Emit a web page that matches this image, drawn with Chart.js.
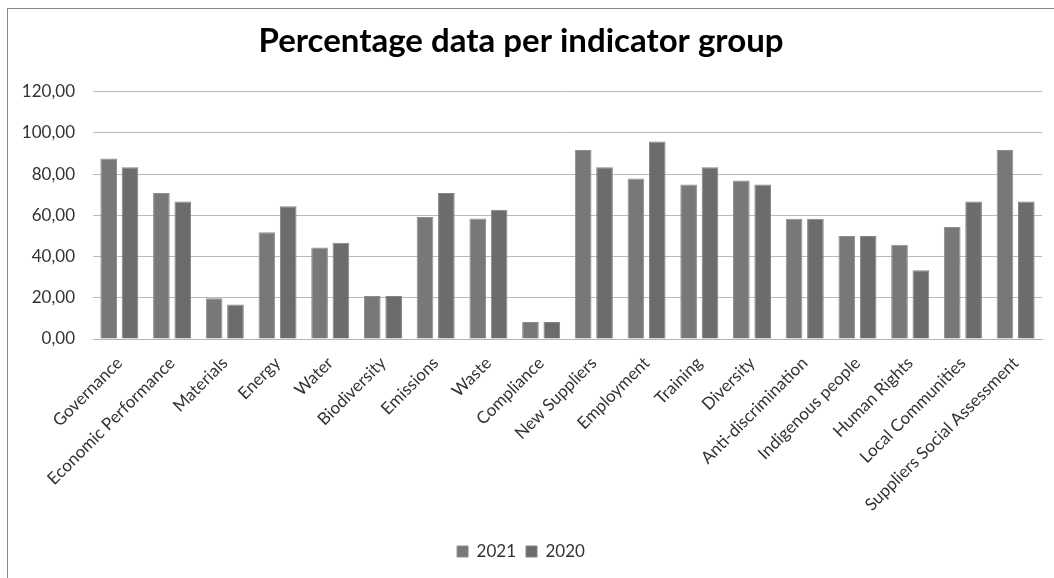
<!DOCTYPE html>
<html><head><meta charset="utf-8">
<script src="https://cdn.jsdelivr.net/npm/chart.js@4/dist/chart.umd.min.js"></script>
<style>
html,body{margin:0;padding:0;background:#fff;overflow:hidden;}
#frame{position:absolute;left:7px;top:8px;width:1100px;height:620px;border:1px solid #8a8a8a;box-sizing:border-box;}
#wrap{position:absolute;left:0;top:0;width:1054px;height:578px;}
</style></head>
<body>
<div id="frame"></div>
<div id="wrap"><canvas id="c" width="1054" height="578"></canvas></div>
<script>
const categories = ["Governance","Economic Performance","Materials","Energy","Water","Biodiversity","Emissions","Waste","Compliance","New Suppliers","Employment","Training","Diversity","Anti-discrimination","Indigenous people","Human Rights","Local Communities","Suppliers Social Assessment"];
const values2021 = [87.5,70.8,19.8,51.8,44.4,20.8,59.2,58.4,8.3,91.7,77.9,75.0,76.9,58.3,50.0,45.7,54.3,91.7];
const values2020 = [83.3,66.7,16.7,64.4,46.7,20.8,70.8,62.7,8.3,83.3,95.8,83.3,75.0,58.3,50.0,33.3,66.7,66.7];
const yTicks = [0,20,40,60,80,100,120];

const font = "Lato, 'Open Sans', sans-serif";
new Chart(document.getElementById('c'), {
  type: 'bar',
  data: {
    labels: categories,
    datasets: [
      {label:'2021', data: values2021, backgroundColor:'#787878', borderColor:'#8e8e8e', borderWidth:1},
      {label:'2020', data: values2020, backgroundColor:'#6c6c6c', borderColor:'#848484', borderWidth:1}
    ]
  },
  options: {
    responsive:false, animation:false,
    layout:{padding:{left:0,right:12,top:8,bottom:8}},
    datasets:{bar:{barPercentage:0.78, categoryPercentage:0.81}},
    plugins:{
      title:{display:true, text:'Percentage data per indicator group', color:'#000',
        font:{family:font, size:33, weight:'bold'}, padding:{top:14,bottom:30}},
      legend:{position:'bottom', labels:{boxWidth:11, boxHeight:11, color:'#333', font:{family:font,size:17}, padding:10}},
      tooltip:{enabled:false}
    },
    scales:{
      x:{
        grid:{display:false, drawTicks:false},
        border:{display:true, color:'#b5b5b5'},
        ticks:{color:'#333', font:{family:font,size:17}, maxRotation:45, minRotation:45, padding:14, autoSkip:false},
        afterFit:(s)=>{s.height=194;}
      },
      y:{
        min:0, max:120,
        afterBuildTicks:(s)=>{s.ticks=yTicks.map(v=>({value:v}));},
        grid:{color:'#b9b9b9', drawTicks:false, lineWidth:1},
        border:{display:false},
        ticks:{color:'#333', font:{family:font,size:17}, padding:18,
          callback:(v)=>v.toFixed(2).replace('.',',')},
        afterFit:(s)=>{s.width=93;}
      }
    }
  }
});
</script>
</body></html>
